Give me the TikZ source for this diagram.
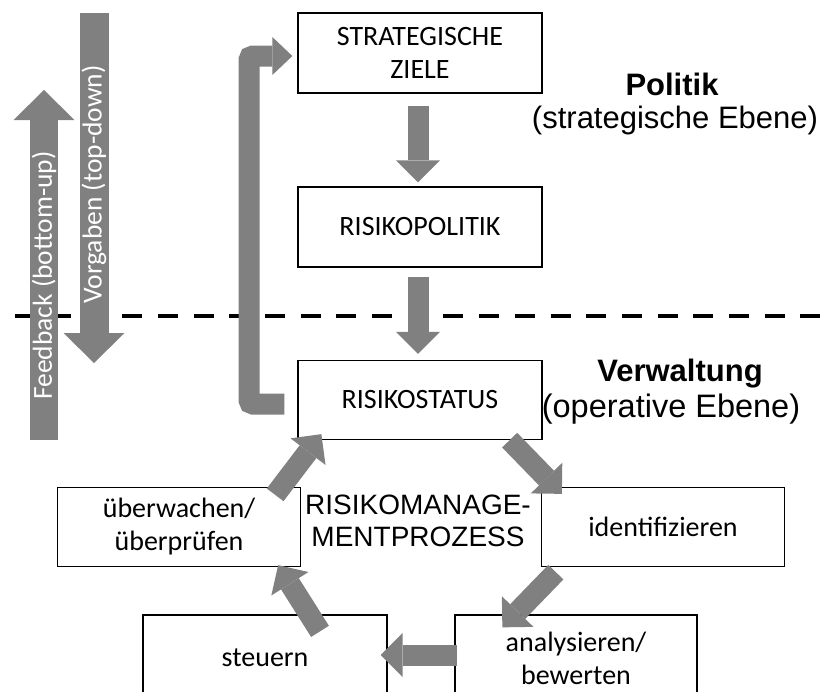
\documentclass[tikz,border=0pt]{standalone}
\usepackage{fontspec}
\setmainfont{Carlito}
\newfontfamily\arialfont{Liberation Sans}
\usetikzlibrary{arrows.meta,calc}
\definecolor{arrowgray}{RGB}{128,128,128}
\tikzset{
  box/.style={draw, line width=1.3pt, minimum width=244pt, minimum height=80pt,
    inner sep=0pt, align=center, font=\fontsize{28}{33}\selectfont},
  flow/.style={arrowgray, line width=21pt,
    -{Triangle[length=22pt,width=44pt,line width=0pt]}},
  bigflow/.style={arrowgray, line width=29pt,
    -{Triangle[length=30pt,width=61pt,line width=0pt]}},
  levelhead/.style={font=\arialfont\bfseries\fontsize{31}{36}\selectfont},
  levelsub/.style={font=\arialfont\fontsize{31}{36}\selectfont},
}

\begin{document}
\begin{tikzpicture}[x=1pt,y=-1pt]
  \useasboundingbox (0,0) rectangle (824,691);

  % Grenze Politik / Verwaltung
  \draw[line width=4pt, dash pattern=on 20pt off 15.7pt] (15,316) -- (824,316);

  \node (ziele) at (420,53) [box] {STRATEGISCHE\\ZIELE};
  \node (politik) at (420,227) [box] {RISIKOPOLITIK};
  \node (status) at (420,400) [box, minimum height=79pt] {RISIKOSTATUS};
  \node (ueberw) at (179,527) [box, minimum width=243pt, minimum height=79pt] {überwachen/\\überprüfen};
  \node (ident) at (663,527) [box, minimum width=243pt, minimum height=79pt] {identifizieren};
  \node (steuern) at (265,658) [box, minimum height=86pt] {steuern};
  \node (analys) at (576,658) [box, minimum width=242pt, minimum height=86pt] {analysieren/\\bewerten};

  \node (prozess) at (418,521) [align=center, font=\arialfont\fontsize{28}{32}\selectfont]
    {RISIKOMANAGE-\\MENTPROZESS};

  \node (politik-t) at (672,84) [levelhead] {Politik};
  \node (politik-s) at (675,120) [levelsub] {(strategische Ebene)};
  \node (verw-t) at (680,374) [levelhead] {Verwaltung};
  \node (verw-s) at (671,409) [levelsub, font=\arialfont\fontsize{32.5}{36}\selectfont] {(operative Ebene)};

  % Vorgaben und Feedback
  \coordinate (fb1) at (44,440);
  \coordinate (fb2) at (44,90);
  \coordinate (vg1) at (94,13);
  \coordinate (vg2) at (94,363);
  \draw[bigflow, line width=28pt] (fb1) -- (fb2)
    node[pos=0.47, rotate=90, white, font=\fontsize{27.5}{30}\selectfont] (fb-t) {Feedback (bottom-up)};
  \draw[bigflow] (vg1) -- (vg2)
    node[pos=0.49, rotate=90, white, font=\fontsize{27.5}{30}\selectfont] (vg-t) {Vorgaben (top-down)};

  % Rueckkopplung
  \draw[arrowgray, line width=21pt, rounded corners=4pt,
        -{Triangle[length=20pt,width=38pt,line width=0pt]}]
    ($(status.west)+(-13,4)$) -| (249,56) -- ($(ziele.west)+(-5,3)$);

  % Ablauf oben
  \draw[flow] ($(ziele.south)+(-2,12)$) -- ($(politik.north)+(-2,-4)$);
  \draw[flow] ($(politik.south)+(-2,9)$) -- ($(status.north)+(-2,-6)$);

  % Kreislauf
  \draw[flow] ($(status.south east)+(-33,0)$) -- ($(ident.north west)+(21,7)$);
  \draw[flow] ($(ident.south west)+(15,5)$) -- ($(analys.north west)+(48,13)$);
  \draw[flow] ($(analys.west)+(3,-3)$) -- ($(steuern.east)+(-7,-3)$);
  \draw[flow] ($(steuern.north)+(55,17)$) -- ($(ueberw.south east)+(-23,-2)$);
  \draw[flow] ($(ueberw.north east)+(-26,8)$) -- ($(status.south west)+(24,-6)$);
\end{tikzpicture}
\end{document}
